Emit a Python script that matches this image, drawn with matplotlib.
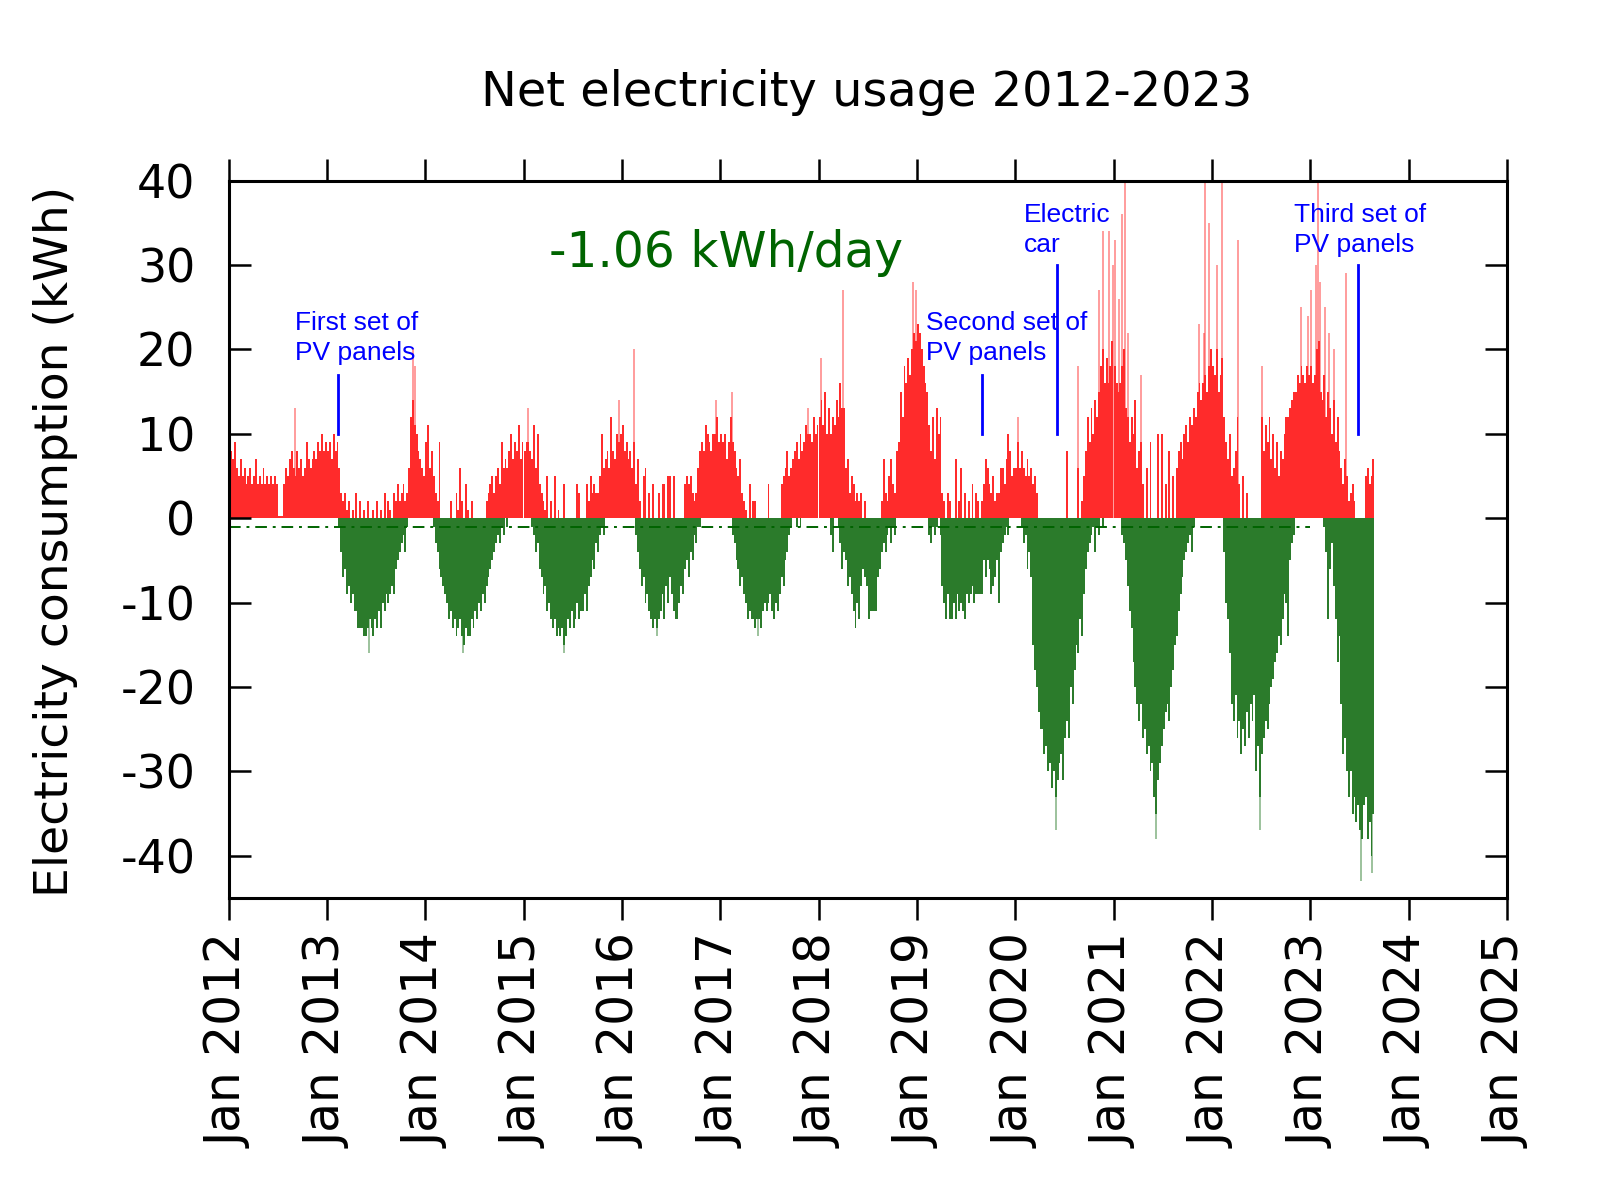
import matplotlib
matplotlib.use("Agg")
import matplotlib.pyplot as plt
import matplotlib.dates as mdates
import numpy as np

plt.rcParams['axes.unicode_minus'] = False
plt.rcParams['font.family'] = ['DejaVu Sans']

# weekly net usage (kWh), positive part and negative part
pos_2012 = [6,8,7,9,6,5,7,5,6,4, 5,6,4,5,7,4,5,4,6,4, 5,4,5,4,5,4,0.3,0.3,0.3,4,
            6,5,7,8,6,5,8,6,7,5, 6,9,7,6,7,8,7,9,8,10, 8,9]
neg_2012 = [0,0,0,0,0,0,0,0,0,0, 0,0,0,0,0,0,0,0,0,0, 0,0,0,0,0,0,0,0,0,0,
            0,0,0,0,0,0,0,0,0,0, 0,0,0,0,0,0,0,0,0,0, 0,0]
pos_2013 = [8,9,7,10,8,9,6,3,2,3, 1,2,0,1,0,3,0,2,0,1, 0,2,0,0,1,0,2,0,1,0,
            3,0,2,1,0,3,2,4,2,3, 4,2,3,6,12,14,11,10,8,7, 6,5]
neg_2013 = [0,0,0,0,0,0,-1,-4,-7,-6, -9,-8,-10,-9,-11,-11,-13,-13,-13,-14,
            -14,-13,-12,-13,-14,-12,-13,-11,-13,-10, -11,-9,-10,-9,-8,-9,-6,-5,-4,-3,
            -2,-4,-1,0,0,0,0,0,0,0, 0,0]
pos_2014 = [9,11,6,8,5,3,2,9,0,0, 0,0,0,2,0,0,3,1,6,2, 0,4,1,0,2,0,0,0,0,0,
            0,0,2,3,4,5,3,5,6,4, 9,6,7,6,8,10,7,9,8,11, 7,9]
neg_2014 = [0,0,0,0,-1,-3,-4,-6,-7,-8, -9,-10,-12,-11,-13,-12,-14,-13,-12,-14,
            -15,-13,-14,-14,-12,-13,-11,-12,-10,-11, -9,-10,-8,-7,-6,-5,-4,-3,-2,-3,
            -1,-2,0,-1,0,0,0,0,0,0, 0,0]
pos_2015 = [8,9,9,8,7,11,6,10,4,3, 2,1,5,0,2,0,5,0,1,0, 0,4,0,0,0,0,0,0,4,3,
            0,0,0,4,2,5,3,4,3,3, 5,10,6,7,8,6,12,8,7,10, 9,10]
neg_2015 = [0,0,0,0,-1,-2,-4,-3,-6,-7, -9,-8,-11,-10,-12,-13,-12,-14,-13,-14,
            -13,-15,-14,-12,-13,-11,-13,-12,-10,-12, -11,-11,-9,-11,-8,-7,-5,-6,-3,-4,
            -2,-1,-2,0,0,0,0,0,0,0, 0,0]
pos_2016 = [11,8,9,7,8,6,9,4,7,2, 0,5,6,0,3,0,4,0,0,3, 0,4,4,0,5,5,0,5,0,0,
            0,0,0,4,5,4,5,3,2,3, 6,8,9,8,11,10,9,8,10,10, 12,9]
neg_2016 = [0,0,0,0,0,0,0,-2,-4,-6, -8,-7,-10,-9,-11,-12,-13,-12,-13,-12,
            -11,-9,-12,-8,-10,-7,-9,-11,-12,-12, -10,-8,-9,-6,-5,-7,-4,-5,-2,-3,
            -1,-1,0,0,0,0,0,0,0,0, 0,0]
pos_2017 = [10,9,10,7,9,12,9,8,6,5, 7,3,2,1,0,4,0,2,2,0, 0,0,0,0,0,4,0,0,0,0,
            0,0,4,5,6,8,5,6,7,8, 9,7,10,8,9,11,10,10,9,12, 10,11]
neg_2017 = [0,0,0,0,0,0,-2,-3,-5,-6, -8,-7,-9,-10,-12,-11,-12,-12,-13,-12,
            -12,-13,-11,-10,-11,-10,-9,-11,-12,-10, -11,-9,-7,-8,-5,-4,-2,-1,0,0,
            -1,0,-1,0,0,0,0,0,0,0, 0,0]
pos_2018 = [12,14,11,15,10,13,10,12,11,14, 12,16,13,13,6,7,3,5,4,2, 3,2,3,0,2,0,0,0,0,0,
            0,0,0,2,7,3,2,5,7,4, 3,8,9,15,12,18,16,19,17,20, 22,21]
neg_2018 = [0,0,0,0,0,0,-2,-4,0,0, -1,-3,-6,-4,-5,-8,-7,-9,-11,-13,
            -10,-12,-8,-6,-7,-8,-12,-11,-11,-11, -11,-7,-6,-4,-3,-4,-2,-1,-3,-1,
            -2,0,0,0,0,0,0,0,0,0, 0,0]
pos_2019 = [23,22,20,18,16,15,11,8,12,7, 13,10,12,3,2,0,3,2,0,0, 7,0,2,6,0,3,0,2,0,4,
            0,3,2,0,2,4,7,6,4,3, 5,2,3,3,6,6,4,7,10,8, 5,6]
neg_2019 = [0,0,0,0,0,0,-2,-3,-1,-2, -1,0,-2,-8,-10,-12,-9,-12,-12,-10,
            -12,-9,-11,-10,-11,-12,-9,-10,-9,-8, -10,-9,-9,-9,-9,-5,-7,-5,-6,-9,
            -8,-7,-5,-10,-4,-3,-2,-1,-2,0, 0,0]
pos_2020 = [6,9,6,8,6,5,7,5,6,4, 5,3,0,0,0,0,0,0,0,0, 0,0,0,0,0,0,0,8,0,0,
            0,0,0,6,0,2,5,8,12,9, 13,10,14,12,15,18,20,16,19,16, 18,21]
neg_2020 = [0,0,0,-1,-3,-2,-6,-4,-7,-15, -18,-20,-23,-25,-25,-28,-27,-30,-29,-32,
            -30,-33,-31,-29,-28,-31,-26,-24,-26,-20, -22,-18,-15,-16,-12,-14,-9,-6,-4,-3,
            -2,-1,-4,-1,-2,0,-1,0,0,0, 0,0]
pos_2021 = [18,16,15,16,18,20,13,12,9,12, 10,14,6,8,9,4,0,6,0,9, 0,0,0,10,0,10,0,4,0,8,
            0,5,0,6,8,9,7,10,11,9, 12,11,13,12,15,16,14,16,17,15, 18,20]
neg_2021 = [0,0,0,0,-2,-3,-5,-8,-11,-13, -17,-20,-22,-24,-22,-26,-25,-28,-27,-30,
            -29,-33,-35,-31,-29,-27,-25,-23,-22,-24, -20,-18,-15,-14,-11,-9,-7,-5,-4,-3,
            -2,-4,-1,0,0,0,0,0,0,0, 0,0]
pos_2022 = [18,17,20,15,17,19,12,9,7,10, 5,6,8,12,4,0,5,0,3,0, 0,0,0,0,0,0,12,8,11,9,
            12,7,10,6,9,5,8,7,10,12, 12,13,14,15,15,17,16,18,17,16, 18,17]
neg_2022 = [0,0,0,0,0,0,-4,-10,-12,-16, -22,-24,-21,-26,-24,-28,-25,-27,-23,-26,
            -22,-24,-21,-30,-27,-33,-28,-26,-24,-25, -22,-20,-19,-17,-16,-14,-15,-12,-9,-10,
            -14,-5,-3,-2,0,0,0,0,0,0, 0,0]
pos_2023 = [18,16,17,20,21,15,14,17,12,15, 13,10,14,9,12,8,6,4,7,5, 2,3,4,2,0,0,0,0,0,5,
            6,4,5,7]
neg_2023 = [0,0,0,0,0,0,0,-1,-4,-12, -6,-3,-8,-12,-17,-14,-22,-28,-26,-30,
            -33,-30,-35,-33,-36,-34,-37,-38,-34,-33, -38,-36,-40,-35]

years = [2012, 2013, 2014, 2015, 2016, 2017, 2018, 2019, 2020, 2021, 2022, 2023]
pos_weeks = [pos_2012, pos_2013, pos_2014, pos_2015, pos_2016, pos_2017,
             pos_2018, pos_2019, pos_2020, pos_2021, pos_2022, pos_2023]
neg_weeks = [neg_2012, neg_2013, neg_2014, neg_2015, neg_2016, neg_2017,
             neg_2018, neg_2019, neg_2020, neg_2021, neg_2022, neg_2023]

# single-day peaks that stick out of the weekly bulk
peak_dates = ['2012-09-01', '2013-06-03', '2013-11-12', '2013-11-19', '2014-05-19',
              '2015-01-15', '2015-05-27', '2015-12-19', '2016-02-12', '2016-05-08',
              '2016-12-12', '2017-02-09', '2017-05-18', '2017-11-21', '2018-01-07',
              '2018-03-29', '2018-12-14', '2018-12-27', '2020-01-07', '2020-05-29',
              '2020-08-20', '2020-11-05', '2020-11-20', '2020-12-13', '2020-12-28',
              '2021-01-02', '2021-01-18', '2021-01-30', '2021-02-07', '2021-02-20',
              '2021-04-09', '2021-06-03', '2021-11-09', '2021-11-28', '2021-12-03',
              '2021-12-19', '2022-01-15', '2022-02-03', '2022-04-04', '2022-06-25',
              '2022-07-02', '2022-11-25', '2022-12-20', '2023-01-01', '2023-01-19',
              '2023-01-28', '2023-02-05', '2023-02-20', '2023-03-10', '2023-03-29',
              '2023-05-12', '2023-07-05', '2023-08-17']
peak_vals = [13, -16, 20, 18, -16,
             13, -16, 14, 20, -14,
             14, 15, -14, 13, 19,
             27, 28, 27, 12, -37,
             18, 27, 34, 34, 30,
             33, 26, 36, 40, 22,
             17, -38, 23, 22, 40,
             35, 30, 40, 33, -37,
             18, 25, 24, 27, 30,
             40, 28, 25, 22, 20,
             29, -43, -42]

mean_usage = -1.06
mean_span = ['2012-01-01', '2023-01-01']

notes = ['First set of\nPV panels', 'Second set of\nPV panels',
         'Electric\ncar', 'Third set of\nPV panels']
note_text_dates = ['2012-09-02', '2019-02-03', '2020-02-03', '2022-11-03']
note_text_y = [24.5, 24.5, 37.3, 37.3]
note_line_dates = ['2013-02-12', '2019-08-29', '2020-06-03', '2023-06-28']
note_line_top = [17, 17, 30, 30]

tick_years = list(range(2012, 2026))

RED = '#ff2b2b'
GREEN = '#2b7b2b'
DARKGREEN = '#006400'


def d2n(s):
    return mdates.date2num(np.datetime64(s))


fig = plt.figure(figsize=(16, 12), dpi=100)
ax = fig.add_axes([0.1429, 0.2517, 0.799, 0.5978])

for yr, pos, neg in zip(years, pos_weeks, neg_weeks):
    x = d2n(f'{yr}-01-01') + 7 * np.arange(len(pos))
    ax.bar(x, pos, width=7, align='edge', color=RED, linewidth=0)
    ax.bar(x, neg, width=7, align='edge', color=GREEN, linewidth=0)

px = [d2n(d) + 3 for d in peak_dates]
pc = [RED if v > 0 else GREEN for v in peak_vals]
ax.vlines(px, 0, peak_vals, colors=pc, linewidth=1.3, alpha=0.5)

ax.plot([d2n(mean_span[0]), d2n(mean_span[1])], [mean_usage, mean_usage],
        color=DARKGREEN, linewidth=1.4, dashes=(6, 3, 1.5, 3))

for txt, td, ty, ld, lt in zip(notes, note_text_dates, note_text_y,
                               note_line_dates, note_line_top):
    ax.text(d2n(td), ty, txt, color='blue', fontsize=19, ha='left', va='top',
            family=['Liberation Sans', 'DejaVu Sans'], linespacing=1.3)
    ax.plot([d2n(ld), d2n(ld)], [10, lt], color='blue', linewidth=2)

ax.text(d2n('2017-01-20'), 31.4, '-1.06 kWh/day', color=DARKGREEN, fontsize=35,
        ha='center', va='center')

ax.set_xlim(d2n('2012-01-01'), d2n('2025-01-01'))
ax.set_ylim(-45, 40)
ax.set_xticks([d2n(f'{y}-01-01') for y in tick_years])
ax.set_xticklabels([f'Jan {y}' for y in tick_years], rotation=90, fontsize=35)
ax.set_yticks(range(-40, 41, 10))
ax.tick_params(axis='y', direction='in', length=16, width=1.8, left=True, right=True,
               labelsize=33, pad=24)
ax.tick_params(axis='x', direction='out', length=16, width=1.8, top=True, bottom=True,
               pad=10)
for sp in ax.spines.values():
    sp.set_linewidth(2.2)

fig.text(56 / 1600, 1 - 541 / 1200, 'Electricity consumption (kWh)', rotation=90,
         ha='center', va='center', fontsize=34)
fig.text(867 / 1600, 1 - 92 / 1200, 'Net electricity usage 2012-2023',
         ha='center', va='center', fontsize=34.5)

fig.savefig('out.png', dpi=100)
